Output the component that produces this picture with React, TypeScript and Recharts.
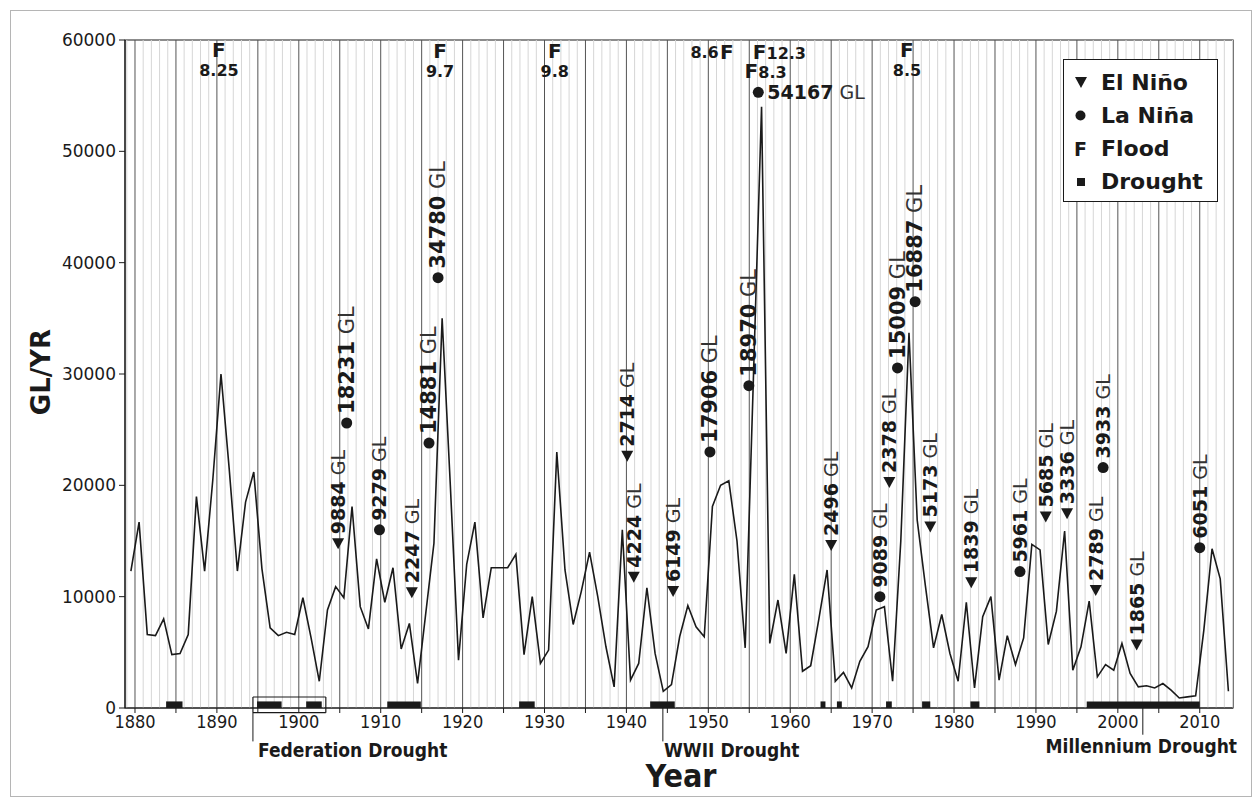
import React from "react";
import {
  ComposedChart,
  Line,
  Scatter,
  XAxis,
  YAxis,
  ReferenceLine,
  ReferenceArea,
} from "recharts";

// Annual flow (GL/yr), one value per year starting 1879
const FIRST_YEAR = 1879;
const flowGL = [
  12300, // 1879
  16700, 6600, 6500, 8000, 4800, 4900, 6600, 19000, 12300, 20500, // 1880s
  30000, 21500, 12300, 18500, 21200, 12500, 7200, 6500, 6800, 6600, // 1890s
  9900, 6300, 2400, 8800, 10900, 9900, 18100, 9100, 7100, 13400, // 1900s
  9500, 12600, 5300, 7600, 2200, 8500, 14800, 35000, 20000, 4300, // 1910s
  12900, 16700, 8100, 12600, 12600, 12600, 13800, 4800, 10000, 4000, // 1920s
  5200, 23000, 12400, 7500, 10500, 14000, 10000, 5500, 1900, 16000, // 1930s
  2500, 4000, 10800, 4900, 1500, 2100, 6400, 9200, 7300, 6400, // 1940s
  18100, 20000, 20400, 15000, 5400, 29500, 54000, 5800, 9700, 4900, // 1950s
  12000, 3300, 3800, 8000, 12400, 2400, 3200, 1800, 4200, 5500, // 1960s
  8800, 9100, 2400, 15000, 33700, 16900, 11000, 5400, 8400, 4900, // 1970s
  2400, 9500, 1800, 8200, 10000, 2500, 6500, 3900, 6300, 14700, // 1980s
  14200, 5700, 8700, 15900, 3400, 5500, 9600, 2800, 3900, 3400, // 1990s
  5800, 3100, 1900, 2000, 1800, 2200, 1600, 900, 1000, 1100, // 2000s
  7000, 14300, 11600, 1500, // 2010s
];
const years = flowGL.map((_, i) => FIRST_YEAR + i);

// El Niño events: marker position (year, GL level) and labelled volume
const ninoYear = [1904.8, 1913.8, 1940.1, 1940.9, 1945.7, 1965.0, 1972.1, 1977.1, 1982.1, 1991.2, 1993.8, 1997.3, 2002.3];
const ninoLevel = [14800, 10400, 22650, 11800, 10500, 14650, 20300, 16300, 11300, 17200, 17500, 10600, 5700];
const ninoGL = ["9884", "2247", "2714", "4224", "6149", "2496", "2378", "5173", "1839", "5685", "3336", "2789", "1865"];

// La Niña events
const ninaYear = [1905.85, 1909.85, 1915.9, 1917.0, 1950.2, 1954.95, 1956.1, 1970.95, 1973.1, 1975.25, 1988.05, 1998.2, 2010.0];
const ninaLevel = [25600, 16000, 23800, 38650, 23000, 28950, 55300, 10000, 30550, 36500, 12250, 21600, 14400];
const ninaGL = ["18231", "9279", "14881", "34780", "17906", "18970", "54167", "9089", "15009", "16887", "5961", "3933", "6051"];

// Floods: year and peak height (m)
const floodYear = [1890, 1917, 1931, 1952, 1955, 1956, 1974];
const floodHeight = ["8.25", "9.7", "9.8", "8.6", "8.3", "12.3", "8.5"];

// Drought periods (drawn as bars on the x axis)
const droughtFrom = [1883.8, 1894.9, 1900.9, 1910.8, 1926.9, 1942.9, 1963.7, 1965.7, 1971.7, 1976.1, 1982.0, 1996.2];
const droughtTo = [1885.8, 1897.9, 1902.8, 1914.9, 1928.8, 1945.9, 1964.3, 1966.3, 1972.4, 1977.1, 1983.1, 2010.0];

const yTicks = [0, 10000, 20000, 30000, 40000, 50000, 60000];
const xTicks = Array.from({ length: 27 }, (_, i) => 1880 + i * 5);

const X_MIN = 1878.78;
const X_MAX = 2014.06;
const INK = "#1a1a1a";

// label layout for floods: where the number sits relative to the F
const FLOOD_LAYOUT: Record<number, { side: "below" | "left" | "right"; level: number }> = {
  1890: { side: "below", level: 59100 },
  1917: { side: "below", level: 59000 },
  1931: { side: "below", level: 59000 },
  1952: { side: "left", level: 58900 },
  1955: { side: "right", level: 57200 },
  1956: { side: "right", level: 58900 },
  1974: { side: "below", level: 59100 },
};
const FLAT_LABELS = new Set(["54167"]);

// Federation drought box (year span, GL span)
const FED_BOX = { x1: 1894.4, x2: 1903.3, y1: -420, y2: 990 };

const flowRows = years.map((y, i) => ({ year: y + 0.5, flow: flowGL[i] }));
const ninoRows = ninoYear.map((y, i) => ({ year: y, level: ninoLevel[i], gl: ninoGL[i] }));
const ninaRows = ninaYear.map((y, i) => ({ year: y, level: ninaLevel[i], gl: ninaGL[i] }));
const floodRows = floodYear.map((y, i) => ({
  year: y + 0.25,
  level: FLOOD_LAYOUT[y].level,
  h: floodHeight[i],
  side: FLOOD_LAYOUT[y].side,
}));
const gridYears = Array.from({ length: 136 }, (_, i) => 1879 + i);

function GLText({ gl }: { gl: string }) {
  return (
    <>
      <tspan fontWeight="bold">{gl}</tspan>
      <tspan fill="#333"> GL</tspan>
    </>
  );
}

// vertical label reading upwards from just above the marker
function UpLabel({ cx, cy, gl }: { cx: number; cy: number; gl: string }) {
  const size = gl.length > 4 ? 21 : 19;
  return (
    <text
      transform={`translate(${cx + 7},${cy - 9}) rotate(-90)`}
      fontFamily="DejaVu Sans"
      fontSize={size}
      fill={INK}
    >
      <GLText gl={gl} />
    </text>
  );
}

function NinoMark(p: any) {
  const { cx, cy, payload } = p;
  return (
    <g>
      <path d={`M${cx - 6},${cy - 5}L${cx + 6},${cy - 5}L${cx},${cy + 6}Z`} fill={INK} />
      <UpLabel cx={cx} cy={cy} gl={payload.gl} />
    </g>
  );
}

function NinaMark(p: any) {
  const { cx, cy, payload } = p;
  const flat = FLAT_LABELS.has(payload.gl);
  return (
    <g>
      <circle cx={cx} cy={cy} r={5.5} fill={INK} />
      {flat ? (
        <text x={cx + 9} y={cy + 7} fontFamily="DejaVu Sans" fontSize={19} fill={INK}>
          <GLText gl={payload.gl} />
        </text>
      ) : (
        <UpLabel cx={cx} cy={cy} gl={payload.gl} />
      )}
    </g>
  );
}

function FloodMark(p: any) {
  const { cx, cy, payload } = p;
  const f = { fontFamily: "DejaVu Sans", fontWeight: "bold" as const, fill: INK };
  if (payload.side === "below") {
    return (
      <g>
        <text x={cx} y={cy} textAnchor="middle" dominantBaseline="central" fontSize={20} {...f}>F</text>
        <text x={cx} y={cy + 20} textAnchor="middle" dominantBaseline="central" fontSize={16} {...f}>{payload.h}</text>
      </g>
    );
  }
  if (payload.side === "left") {
    return (
      <g>
        <text x={cx} y={cy} textAnchor="middle" dominantBaseline="central" fontSize={20} {...f}>F</text>
        <text x={cx - 8} y={cy} textAnchor="end" dominantBaseline="central" fontSize={16} {...f}>{payload.h}</text>
      </g>
    );
  }
  return (
    <g>
      <text x={cx} y={cy} textAnchor="middle" dominantBaseline="central" fontSize={20} {...f}>F</text>
      <text x={cx + 7} y={cy + 1} textAnchor="start" dominantBaseline="central" fontSize={16} {...f}>{payload.h}</text>
    </g>
  );
}

function LegendBox() {
  const row: React.CSSProperties = { display: "flex", alignItems: "center", height: 33 };
  const sym: React.CSSProperties = { width: 25, display: "flex", justifyContent: "center", marginRight: 8 };
  return (
    <div
      style={{
        position: "absolute",
        left: 1063,
        top: 59,
        width: 155,
        height: 143,
        boxSizing: "border-box",
        border: `1.5px solid ${INK}`,
        background: "#fff",
        fontFamily: "DejaVu Sans",
        fontWeight: "bold",
        fontSize: 22,
        color: INK,
        padding: "6px 0 0 4px",
      }}
    >
      <div style={row}>
        <span style={sym}>
          <svg width={12} height={11}><path d="M0,0L12,0L6,11Z" fill={INK} /></svg>
        </span>
        El Niño
      </div>
      <div style={row}>
        <span style={sym}>
          <svg width={11} height={11}><circle cx={5.5} cy={5.5} r={5} fill={INK} /></svg>
        </span>
        La Niña
      </div>
      <div style={row}>
        <span style={{ ...sym, fontSize: 19 }}>F</span>
        Flood
      </div>
      <div style={row}>
        <span style={sym}>
          <svg width={8} height={8}><rect width={8} height={8} fill={INK} /></svg>
        </span>
        Drought
      </div>
    </div>
  );
}

export default function App() {
  const noteStyle: React.CSSProperties = {
    position: "absolute",
    fontFamily: "DejaVu Sans Condensed",
    fontWeight: "bold",
    fontSize: 19,
    color: INK,
    whiteSpace: "nowrap",
    lineHeight: "20px",
  };
  const b = FED_BOX;
  return (
    <div style={{ position: "absolute", left: 0, top: 0, width: 1257, height: 805, background: "#fff" }}>
      <div style={{ position: "absolute", left: 10, top: 10, width: 1240, height: 785, border: "1px solid #b5b5b5" }} />
      <ComposedChart
        width={1257}
        height={805}
        margin={{ top: 40, right: 24, bottom: 67, left: 0 }}
      >
        <XAxis
          dataKey="year"
          type="number"
          domain={[X_MIN, X_MAX]}
          allowDataOverflow
          ticks={xTicks}
          interval={0}
          tickFormatter={(v: number) => (v % 10 === 0 ? String(v) : "")}
          tickSize={5}
          tickMargin={2}
          height={30}
          axisLine={{ stroke: INK }}
          tickLine={{ stroke: INK }}
          tick={{ fontFamily: "DejaVu Sans Condensed", fontSize: 18, fill: INK }}
        />
        <YAxis
          type="number"
          domain={[0, 60000]}
          allowDataOverflow
          ticks={yTicks}
          width={125}
          tickSize={6}
          tickMargin={3}
          axisLine={{ stroke: INK }}
          tickLine={{ stroke: INK }}
          tick={{ fontFamily: "DejaVu Sans", fontSize: 17, fill: INK }}
        />
        {gridYears.map((y) => (
          <ReferenceLine
            key={y}
            x={y}
            stroke={y % 5 === 0 ? "#555" : "#d6d6d6"}
            strokeWidth={1}
          />
        ))}
        {droughtFrom.map((d, i) => (
          <ReferenceLine
            key={`d${i}`}
            segment={[{ x: d, y: 295 }, { x: droughtTo[i], y: 295 }]}
            stroke={INK}
            strokeWidth={6.6}
          />
        ))}
        {/* Federation drought box and pointer lines */}
        <ReferenceLine segment={[{ x: b.x1, y: b.y2 }, { x: b.x2, y: b.y2 }]} stroke={INK} strokeWidth={1.2} ifOverflow="visible" />
        <ReferenceLine segment={[{ x: b.x1, y: b.y1 }, { x: b.x2, y: b.y1 }]} stroke={INK} strokeWidth={1.2} ifOverflow="visible" />
        <ReferenceLine segment={[{ x: b.x1, y: b.y1 }, { x: b.x1, y: b.y2 }]} stroke={INK} strokeWidth={1.2} ifOverflow="visible" />
        <ReferenceLine segment={[{ x: b.x2, y: b.y1 }, { x: b.x2, y: b.y2 }]} stroke={INK} strokeWidth={1.2} ifOverflow="visible" />
        <ReferenceLine segment={[{ x: b.x1, y: b.y1 }, { x: b.x1, y: -3000 }]} stroke={INK} ifOverflow="visible" />
        <ReferenceLine segment={[{ x: 1944.45, y: 0 }, { x: 1944.45, y: -3000 }]} stroke={INK} ifOverflow="visible" />
        <ReferenceLine segment={[{ x: 2003.05, y: 0 }, { x: 2003.05, y: -2400 }]} stroke={INK} ifOverflow="visible" />
        <ReferenceArea x1={X_MIN} x2={X_MAX} y1={0} y2={60000} fill="none" fillOpacity={0} stroke={INK} strokeWidth={1.2} />
        <Line
          data={flowRows}
          dataKey="flow"
          type="linear"
          stroke={INK}
          strokeWidth={1.6}
          dot={false}
          activeDot={false}
          isAnimationActive={false}
        />
        <Scatter data={ninoRows} dataKey="level" shape={NinoMark} isAnimationActive={false} />
        <Scatter data={ninaRows} dataKey="level" shape={NinaMark} isAnimationActive={false} />
        <Scatter data={floodRows} dataKey="level" shape={FloodMark} isAnimationActive={false} />
      </ComposedChart>
      <LegendBox />
      <div
        style={{
          position: "absolute",
          left: 41,
          top: 372,
          transform: "translate(-50%, -50%) rotate(-90deg)",
          fontFamily: "DejaVu Sans",
          fontWeight: "bold",
          fontSize: 26,
          color: INK,
          whiteSpace: "nowrap",
        }}
      >
        GL/YR
      </div>
      <div style={{ ...noteStyle, left: 258, top: 740 }}>Federation Drought</div>
      <div style={{ ...noteStyle, left: 664, top: 740 }}>WWII Drought</div>
      <div style={{ ...noteStyle, right: 1257 - 1237, top: 736 }}>Millennium Drought</div>
      <div
        style={{
          position: "absolute",
          left: 681,
          top: 776,
          transform: "translate(-50%, -50%)",
          fontFamily: "DejaVu Sans Condensed",
          fontWeight: "bold",
          fontSize: 32,
          color: INK,
        }}
      >
        Year
      </div>
    </div>
  );
}
